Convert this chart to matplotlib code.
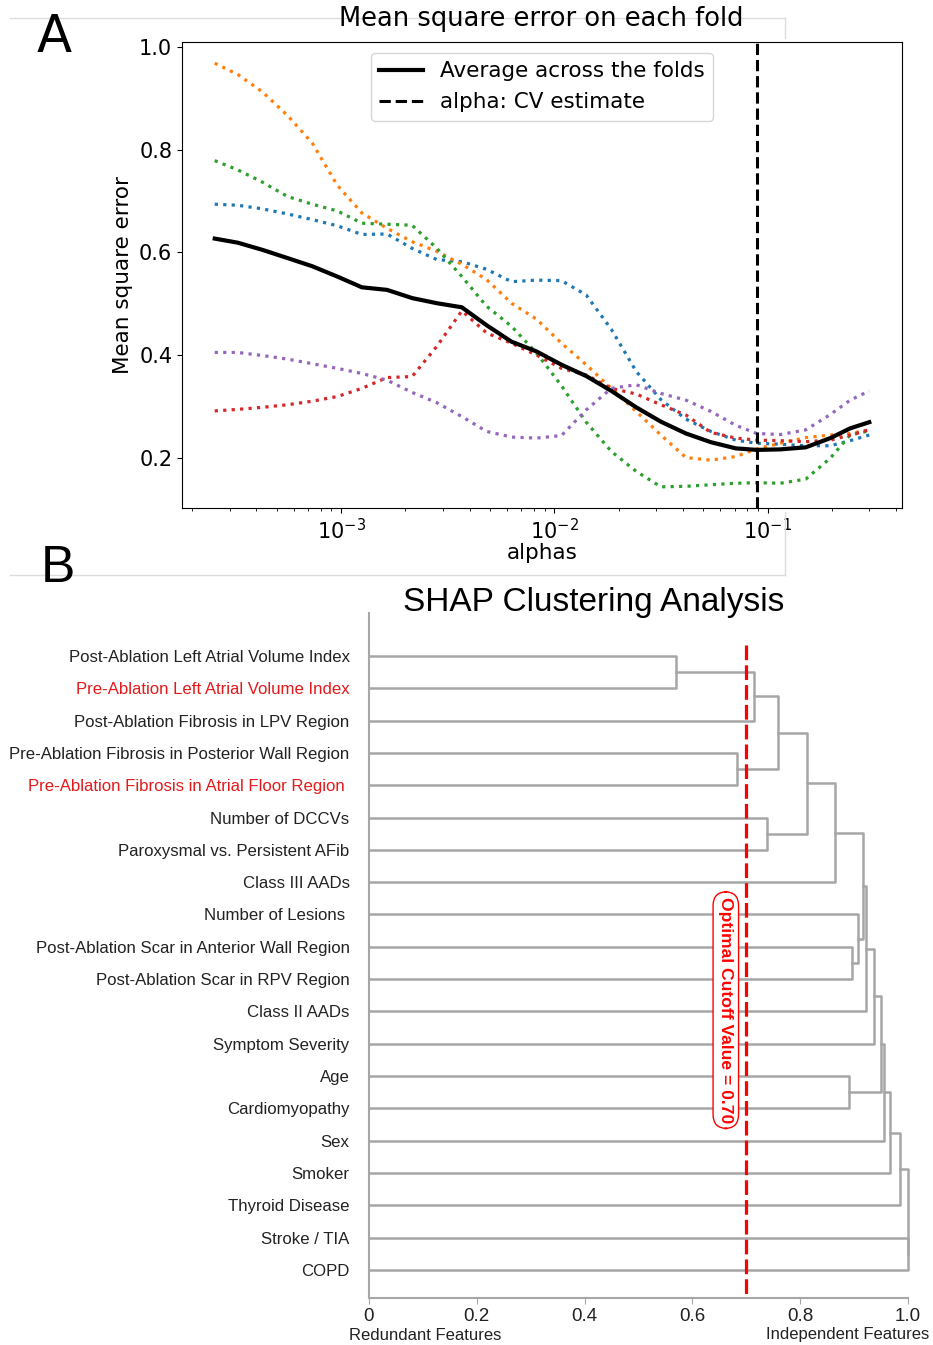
import numpy as np
import matplotlib
matplotlib.use('Agg')
import matplotlib.pyplot as plt
from matplotlib.lines import Line2D

# ---------------- Panel A data ----------------
alphas = [2.55e-4, 3.27e-4, 4.27e-4, 5.60e-4, 7.32e-4, 9.58e-4, 1.25e-3, 1.64e-3,
          2.15e-3, 2.81e-3, 3.68e-3, 4.81e-3, 6.29e-3, 8.24e-3, 1.08e-2, 1.41e-2,
          1.85e-2, 2.42e-2, 3.16e-2, 4.14e-2, 5.42e-2, 7.09e-2, 8.89e-2, 0.115,
          0.151, 0.197, 0.244, 0.300]
fold_blue = [0.694, 0.692, 0.685, 0.675, 0.664, 0.652, 0.635, 0.636, 0.608, 0.586,
             0.582, 0.567, 0.543, 0.546, 0.545, 0.517, 0.450, 0.368, 0.313, 0.275,
             0.251, 0.234, 0.228, 0.226, 0.223, 0.223, 0.233, 0.244]
fold_orange = [0.969, 0.947, 0.913, 0.867, 0.813, 0.731, 0.677, 0.647, 0.621, 0.602,
               0.577, 0.547, 0.501, 0.470, 0.423, 0.381, 0.335, 0.290, 0.244, 0.200,
               0.195, 0.202, 0.217, 0.228, 0.239, 0.244, 0.247, 0.254]
fold_green = [0.779, 0.761, 0.737, 0.709, 0.694, 0.681, 0.657, 0.655, 0.653, 0.608,
              0.553, 0.495, 0.456, 0.404, 0.340, 0.269, 0.212, 0.173, 0.143, 0.144,
              0.147, 0.150, 0.151, 0.150, 0.158, 0.199, 0.244, 0.252]
fold_red = [0.291, 0.294, 0.298, 0.303, 0.310, 0.319, 0.335, 0.356, 0.358, 0.417,
            0.486, 0.443, 0.423, 0.400, 0.374, 0.361, 0.335, 0.324, 0.303, 0.283,
            0.249, 0.238, 0.234, 0.233, 0.231, 0.234, 0.244, 0.254]
fold_purple = [0.405, 0.405, 0.399, 0.392, 0.383, 0.374, 0.364, 0.351, 0.327, 0.307,
               0.280, 0.251, 0.240, 0.238, 0.243, 0.293, 0.335, 0.342, 0.325, 0.312,
               0.290, 0.263, 0.247, 0.245, 0.254, 0.284, 0.312, 0.330]
mse_mean = [0.627, 0.619, 0.605, 0.589, 0.573, 0.553, 0.532, 0.527, 0.511, 0.501,
            0.493, 0.458, 0.426, 0.407, 0.381, 0.359, 0.330, 0.298, 0.270, 0.247,
            0.230, 0.218, 0.215, 0.216, 0.220, 0.238, 0.257, 0.269]
alpha_cv = 0.089

# ---------------- Panel B data ----------------
feature_labels = [
    "Post-Ablation Left Atrial Volume Index",
    "Pre-Ablation Left Atrial Volume Index",
    "Post-Ablation Fibrosis in LPV Region",
    "Pre-Ablation Fibrosis in Posterior Wall Region",
    "Pre-Ablation Fibrosis in Atrial Floor Region ",
    "Number of DCCVs",
    "Paroxysmal vs. Persistent AFib",
    "Class III AADs",
    "Number of Lesions ",
    "Post-Ablation Scar in Anterior Wall Region",
    "Post-Ablation Scar in RPV Region",
    "Class II AADs",
    "Symptom Severity",
    "Age",
    "Cardiomyopathy",
    "Sex",
    "Smoker",
    "Thyroid Disease",
    "Stroke / TIA",
    "COPD",
]
highlighted = [1, 4]
# linkage: node ids 0..19 are leaves, 20+ are merges in this order
merge_left = [0, 3, 20, 5, 22, 24, 25, 9, 8, 13, 26, 30, 31, 32, 33, 34, 35, 18, 36]
merge_right = [1, 4, 2, 6, 21, 23, 7, 10, 27, 14, 28, 11, 12, 29, 15, 16, 17, 19, 37]
merge_height = [0.570, 0.682, 0.714, 0.739, 0.759, 0.813, 0.864, 0.897, 0.908, 0.890,
                0.916, 0.923, 0.936, 0.950, 0.955, 0.967, 0.985, 1.000, 1.000]
cutoff = 0.70
xticks_b = [0, 0.2, 0.4, 0.6, 0.8, 1.0]
xticklabels_b = ['0', '0.2', '0.4', '0.6', '0.8', '1.0']

W, H = 933, 1345
fig = plt.figure(figsize=(W / 100, H / 100), dpi=100)

def fx(px):
    return px / W

def fy(py):
    return 1 - py / H

# light frame artefacts
for xs, ys in [([10, 785], [18, 18]), ([785, 785], [18, 38]),
               ([10, 785], [575, 575]), ([785, 785], [512, 575])]:
    fig.add_artist(Line2D([fx(x) for x in xs], [fy(y) for y in ys],
                          transform=fig.transFigure, color='#dcdcdc', lw=1))

# ---------------- Panel A ----------------
axA = fig.add_axes([fx(182), fy(508), fx(902) - fx(182), fy(42) - fy(508)])
fold_series = [fold_blue, fold_orange, fold_green, fold_red, fold_purple]
fold_colors = ['tab:blue', 'tab:orange', 'tab:green', 'tab:red', 'tab:purple']
for s, c in zip(fold_series, fold_colors):
    axA.plot(alphas, s, ':', color=c, lw=2.3)
axA.plot(alphas, mse_mean, color='black', lw=3, label='Average across the folds')
axA.axvline(alpha_cv, color='black', ls='--', lw=2.2, label='alpha: CV estimate')
axA.set_xscale('log')
axA.set_xlabel('alphas', fontsize=15.5, labelpad=0)
axA.set_ylabel('Mean square error', fontsize=15.5)
axA.tick_params(labelsize=15)
axA.set_yticks([0.2, 0.4, 0.6, 0.8, 1.0])
axA.legend(loc='upper center', fontsize=15.5)
fig.text(fx(541), fy(19), 'Mean square error on each fold', fontsize=18.5,
         ha='center', va='center')
fig.text(fx(37), fy(52), 'A', fontsize=37, ha='left', va='baseline')

# ---------------- Panel B ----------------
lab_font = 'Liberation Sans'
axB = fig.add_axes([fx(369), fy(1298), fx(908) - fx(369), fy(613) - fy(1298)])
gray = '#a6a6a6'
n = len(feature_labels)
ypos = {i: float(i) for i in range(n)}
xh = {i: 0.0 for i in range(n)}
for k, (a, b, h) in enumerate(zip(merge_left, merge_right, merge_height)):
    node = n + k
    axB.plot([xh[a], h, h, xh[b]], [ypos[a], ypos[a], ypos[b], ypos[b]],
             color=gray, lw=1.8, clip_on=False, zorder=2)
    ypos[node] = (ypos[a] + ypos[b]) / 2
    xh[node] = h

axB.set_xlim(0, 1.0)
axB.set_ylim(19.87, -1.33)
axB.plot([cutoff, cutoff], [-0.34, 19.87], color='red', lw=2.3,
         ls=(0, (4.6, 1.6)), zorder=3, clip_on=False)
axB.text(0.662, 10.96, 'Optimal Cutoff Value = 0.70', rotation=270, color='red',
         fontsize=12.6, fontweight='bold', family=lab_font, ha='center', va='center',
         zorder=5,
         bbox=dict(boxstyle='round,pad=0.3,rounding_size=0.8', fc='white', ec='red', lw=1))

axB.set_yticks(range(n))
axB.set_yticklabels(feature_labels, fontsize=12.1, family=lab_font)
for i, t in enumerate(axB.get_yticklabels()):
    t.set_color('#e41a1c' if i in highlighted else '#222222')
axB.tick_params(axis='y', length=0, pad=14)
axB.set_xticks(xticks_b)
axB.set_xticklabels(xticklabels_b, fontsize=13.5, family=lab_font, color='#222222')
axB.tick_params(axis='x', color=gray, length=4, pad=3)
for sp in ['top', 'right']:
    axB.spines[sp].set_visible(False)
for sp in ['left', 'bottom']:
    axB.spines[sp].set_color(gray)
    axB.spines[sp].set_linewidth(1.5)

fig.text(fx(594), fy(603), 'SHAP Clustering Analysis', fontsize=24, family=lab_font,
         ha='center', va='center')
fig.text(fx(425), fy(1335), 'Redundant Features', fontsize=12, family=lab_font,
         ha='center', va='center', color='#222222')
fig.text(fx(848), fy(1335), 'Independent Features', fontsize=12, family=lab_font,
         ha='center', va='center', color='#222222')
fig.text(fx(41), fy(582), 'B', fontsize=37, family=lab_font, ha='left', va='baseline')

fig.savefig('out.png', dpi=100)
